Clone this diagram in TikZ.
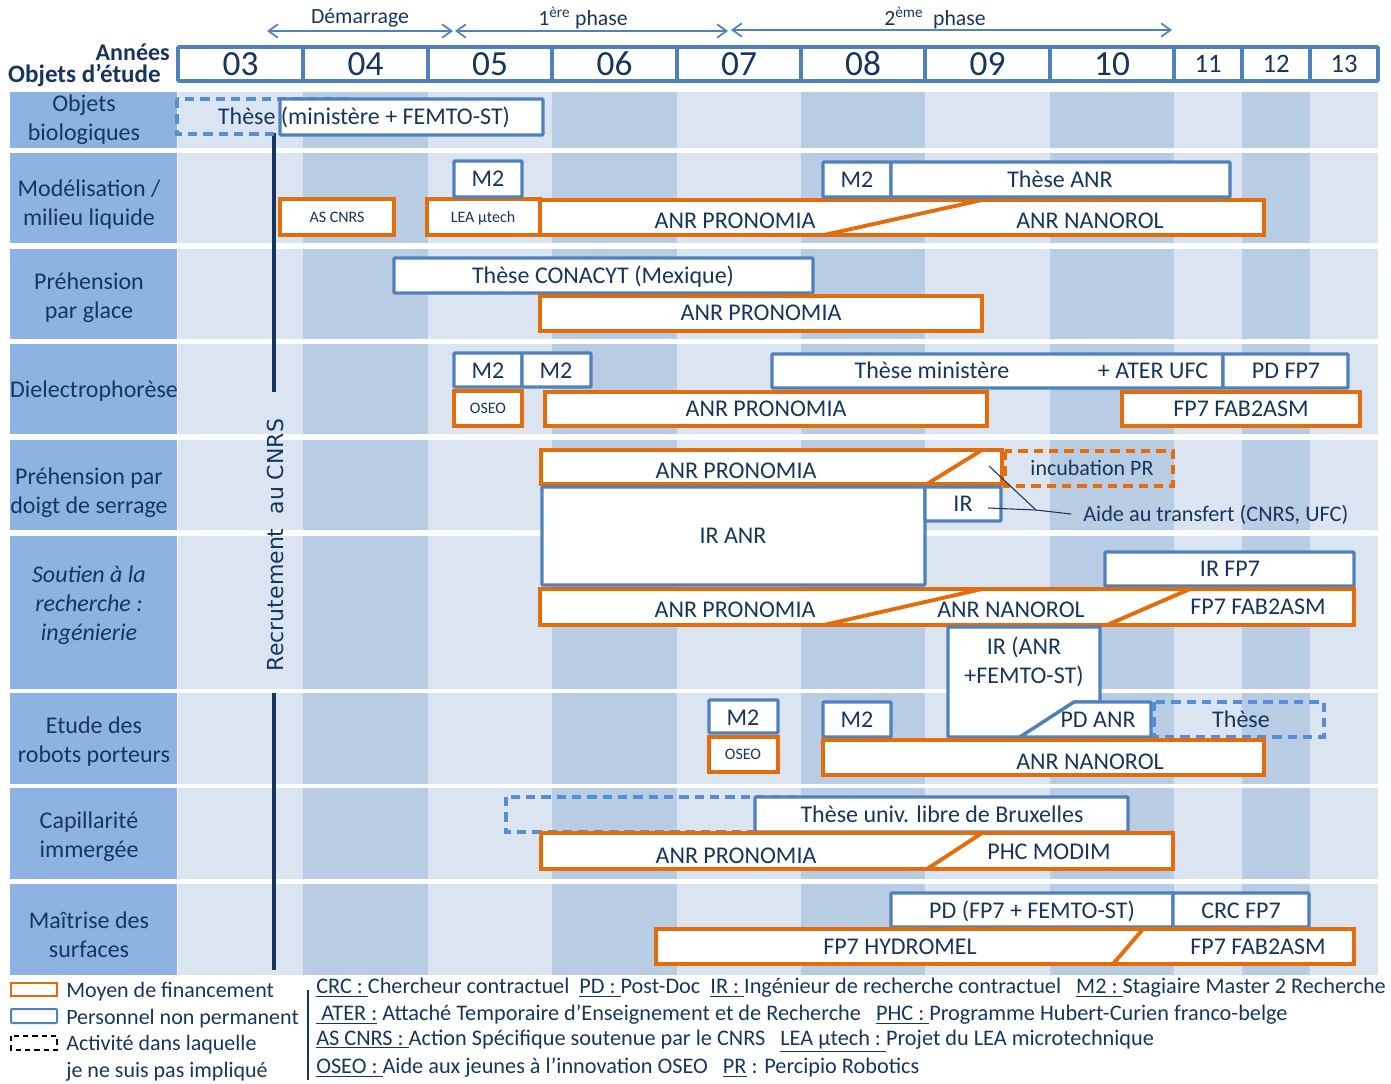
\documentclass[tikz,border=0pt]{standalone}
\usepackage{fontspec}
\setmainfont{Carlito}
\newfontfamily\recfont{DejaVu Sans}
\usetikzlibrary{arrows.meta}
\definecolor{navy}{HTML}{17365D}
\definecolor{bleu}{HTML}{4F81BD}
\definecolor{bleuclair}{HTML}{558ED5}
\definecolor{orangef}{HTML}{E46C0A}
\definecolor{clair}{HTML}{DBE5F1}
\definecolor{fonce}{HTML}{B8CCE4}
\definecolor{etiq}{HTML}{8DB3E2}

\begin{document}
\begin{tikzpicture}[x=0.75pt, y=-0.75pt,
	pers/.style={draw=bleu, fill=white, line width=2.5pt, rounded corners=0.8pt},
	fin/.style={draw=orangef, fill=white, line width=2.9pt},
	libre/.style={draw=bleuclair, line width=2.3pt, dash pattern=on 7pt off 4.5pt},
	txt/.style={text=navy, inner sep=0pt, text height=15.1pt, text depth=3.6pt,
		font=\fontsize{18}{21.75}\selectfont},
	petit/.style={text=navy, inner sep=0pt, text height=10pt, text depth=2.4pt,
		font=\fontsize{12}{14}\selectfont},
	bloc/.style={text=navy, inner sep=0pt, align=center,
		font=\fontsize{18}{21.75}\selectfont},
	rubrique/.style={bloc},
	annee/.style={text=navy, inner sep=0pt, font=\fontsize{26.5}{30}\selectfont},
	anneep/.style={annee, font=\fontsize{20}{24}\selectfont},
	entete/.style={text=navy, inner sep=0pt, font=\bfseries\fontsize{18}{20}\selectfont},
	phase/.style={text=navy, inner sep=0pt, font=\fontsize{16.3}{18}\selectfont},
	fleche/.style={draw=bleu, line width=1.3pt, >={Straight Barb[length=7pt,width=10pt]}, <->},
	barre/.style={draw=navy, line width=3pt},
	renvoi/.style={draw=navy, line width=0.8pt},
	legende/.style={text=navy, inner sep=0pt, anchor=west, font=\fontsize{16.5}{20}\selectfont},
	abrev/.style={legende, font=\fontsize{16.7}{20}\selectfont}]
	\useasboundingbox (0,0) rectangle (1391,1084);

	% fond : rubriques et bandes des annees
	\foreach \t/\b in {92/148,153/243,249/339,344/434,440/530,536/689,693/784,788/879,884/975} {
		\fill[etiq] (10,\t) rectangle (176.5,\b);
		\foreach \l/\r/\c in {178/303/clair,303/428/fonce,428/552/clair,552/677/fonce,
			677/801/clair,801/925/fonce,925/1050/clair,1050/1174/fonce,
			1174/1242/clair,1242/1310/fonce,1310/1378/clair}
			\fill[\c] (\l,\t) rectangle (\r,\b);
	}

	% annees
	\foreach \l/\r/\n in {178/303/03,303/428/04,428/552/05,552/677/06,
		677/801/07,801/925/08,925/1050/09,1050/1174/10} {
		\draw[pers, line width=2.8pt] (\l,47) rectangle (\r,81);
		\node[annee] (an\n) at ({(\l+\r)/2},64) {\n};
	}
	\foreach \l/\r/\n in {1174/1242/11,1242/1310/12,1310/1378/13} {
		\draw[pers, line width=2.8pt] (\l,47) rectangle (\r,81);
		\node[anneep] (an\n) at ({(\l+\r)/2},64) {\n};
	}
	\node[entete, anchor=east] (annees) at (170,52) {Années};
	\node[entete, anchor=east, font=\bfseries\fontsize{18.8}{20}\selectfont] (objets) at (161,76) {Objets d’étude};

	% phases
	\coordinate (ph0) at (267,31);
	\coordinate (ph1) at (453,31);
	\coordinate (ph2) at (455,31);
	\coordinate (ph3) at (728,31);
	\coordinate (ph4) at (731,30);
	\coordinate (ph5) at (1172,30);
	\draw[fleche] (ph0) -- (ph1);
	\draw[fleche] (ph2) -- (ph3);
	\draw[fleche] (ph4) -- (ph5);
	\node[phase] (demarrage) at (360,18) {Démarrage};
	\node[phase] (phase1) at (583,18) {1\textsuperscript{ère} phase};
	\node[phase] (phase2) at (935,18) {2\textsuperscript{ème}\ \ phase};

	% rubriques
	\node[rubrique] (r1) at (84,120) {Objets\\biologiques};
	\node[rubrique] (r2) at (89,205) {Modélisation /\\milieu liquide};
	\node[rubrique] (r3) at (89,298) {Préhension\\par glace};
	\node[rubrique] (r4) at (94,391) {Dielectrophorèse};
	\node[rubrique] (r5) at (89,493) {Préhension par\\doigt de serrage};
	\node[rubrique, font=\itshape\fontsize{18}{21.75}\selectfont] (r6) at (89,605) {Soutien à la\\recherche :\\ingénierie};
	\node[rubrique] (r7) at (94,742) {Etude des\\robots porteurs};
	\node[rubrique] (r8) at (89,837) {Capillarité\\immergée};
	\node[rubrique] (r9) at (89,935) {Maîtrise des\\surfaces};

	% recrutement
	\draw[barre] (274,133) -- (274,392);
	\draw[barre] (274,693) -- (274,970);
	\node[rotate=90, text=navy, inner sep=0pt, font=\recfont\fontsize{16.5}{20}\selectfont] (recrut) at (275,545) {Recrutement\ \ au CNRS};

	% objets biologiques
	\draw[libre] (177,99) rectangle (350,134);
	\draw[pers] (280,99) rectangle (543,135);
	\node[txt] (these1) at (364,117) {Thèse (ministère + FEMTO-ST)};

	% modelisation
	\draw[fin] (280,199) rectangle (394,235);
	\node[petit] (ascnrs) at (337,217) {AS CNRS};
	\draw[fin] (427,199) rectangle (540,235);
	\node[petit] (lea) at (483,217) {LEA µtech};
	\draw[pers] (454,161) rectangle (522,197);
	\node[txt] (m2a) at (488,179) {M2};
	\draw[fin] (540,200) rectangle (1264,235) (824,235) -- (982,200);
	\node[txt] (prono2) at (735,221) {ANR PRONOMIA};
	\node[txt] (nano2) at (1090,221) {ANR NANOROL};
	\draw[pers] (823,162) rectangle (891,197);
	\node[txt] (m2b) at (857,180) {M2};
	\draw[pers] (891,162) rectangle (1230,197);
	\node[txt] (these2) at (1060,180) {Thèse ANR};

	% glace
	\draw[pers] (394,258) rectangle (813,293);
	\node[txt] (conacyt) at (603,276) {Thèse CONACYT (Mexique)};
	\draw[fin] (540,296) rectangle (982,331);
	\node[txt] (prono3) at (761,313) {ANR PRONOMIA};

	% dielectrophorese
	\draw[pers] (454,353) rectangle (522,387);
	\node[txt] (m2c) at (488,371) {M2};
	\draw[pers] (522,353) rectangle (591,387);
	\node[txt] (m2d) at (556,371) {M2};
	\draw[fin] (454,391) rectangle (522,426);
	\node[petit] (oseo4) at (488,408) {OSEO};
	\draw[pers] (772,354) rectangle (1223,388);
	\node[txt] (these4) at (932,371) {Thèse ministère};
	\node[txt] (ater) at (1153,371) {+ ATER UFC};
	\draw[pers] (1223,354) rectangle (1348,388);
	\node[txt] (pdfp7) at (1286,371) {PD FP7};
	\draw[fin] (545,392) rectangle (987,426);
	\node[txt] (prono4) at (766,409) {ANR PRONOMIA};
	\draw[fin] (1122,392) rectangle (1360,426);
	\node[txt] (fab4) at (1241,409) {FP7 FAB2ASM};

	% doigt de serrage
	\draw[fin] (541,450) rectangle (1002,484) (927,484) -- (982,450);
	\node[txt] (prono5) at (736,471) {ANR PRONOMIA};
	\draw[libre, draw=orangef, line width=2.7pt] (1005,451) rectangle (1173,486);
	\node[txt, font=\fontsize{16.5}{20}\selectfont] (incub) at (1092,468) {incubation PR};
	\draw[pers] (542,487) rectangle (925,585);
	\node[txt] (iranr) at (733,536) {IR ANR};
	\draw[pers] (925,487) rectangle (1001,521);
	\node[txt] (ir5) at (963,504) {IR};
	\node[txt, anchor=west, font=\fontsize{16.7}{20}\selectfont] (aide) at (1083,514) {Aide au transfert (CNRS, UFC)};
	\coordinate (p1) at (989,466);
	\coordinate (p2) at (988,508);
	\coordinate (coude) at (1036,510);
	\draw[renvoi] (p1) -- (coude) -- ([xshift=-9pt]aide.west);
	\draw[renvoi] (p2) -- (coude);

	% ingenierie
	\draw[pers] (1105,552) rectangle (1354,586);
	\node[txt] (irfp7) at (1230,569) {IR FP7};
	\draw[fin] (540,589) rectangle (1354,625) (824,625) -- (982,589) (1107,625) -- (1190,589);
	\node[txt] (prono6) at (735,610) {ANR PRONOMIA};
	\node[txt] (nano6) at (1011,610) {ANR NANOROL};
	\node[txt] (fab6) at (1258,607) {FP7 FAB2ASM};
	\draw[pers] (948,627) -- (1100,627) -- (1100,702) -- (1074,702) -- (1020,737) -- (948,737) -- cycle;
	\node[bloc] (irfemto) at (1024,662) {IR (ANR\\+FEMTO-ST)};

	% robots porteurs
	\draw[pers] (1074,702) -- (1151,702) -- (1151,737) -- (1020,737) -- cycle;
	\node[txt] (pdanr) at (1098,720) {PD ANR};
	\draw[libre] (1154,702) rectangle (1324,737);
	\node[txt] (these7) at (1241,720) {Thèse};
	\draw[pers] (709,700) rectangle (778,733);
	\node[txt] (m2e) at (743,718) {M2};
	\draw[fin] (709,737) rectangle (778,772);
	\node[petit] (oseo7) at (743,754) {OSEO};
	\draw[pers] (823,702) rectangle (891,737);
	\node[txt] (m2f) at (857,720) {M2};
	\draw[fin] (823,740) rectangle (1264,775);
	\node[txt] (nano7) at (1090,762) {ANR NANOROL};

	% capillarite
	\draw[libre] (506,797) rectangle (800,832);
	\draw[pers] (755,797) rectangle (1128,832);
	\node[txt] (bruxelles) at (942,815) {Thèse univ. libre de Bruxelles};
	\draw[fin] (541,833) rectangle (1173,869) (927,869) -- (982,833);
	\node[txt] (prono8) at (736,856) {ANR PRONOMIA};
	\node[txt] (phc) at (1049,852) {PHC MODIM};

	% surfaces
	\draw[pers] (891,893) rectangle (1173,927);
	\node[txt] (pdfemto) at (1032,911) {PD (FP7 + FEMTO-ST)};
	\draw[pers] (1173,893) rectangle (1309,927);
	\node[txt] (crc) at (1241,911) {CRC FP7};
	\draw[fin] (656,929) rectangle (1354,964) (1113,964) -- (1143,929);
	\node[txt] (hydro) at (900,947) {FP7 HYDROMEL};
	\node[txt] (fab9) at (1258,947) {FP7 FAB2ASM};

	% legende
	\draw[fin, line width=1.5pt] (11,983) rectangle (57,996);
	\draw[pers, line width=1.5pt] (11,1009) rectangle (57,1023);
	\draw[black, line width=1.3pt, dash pattern=on 4pt off 3pt] (11,1036) rectangle (57,1050);
	\node[legende] (lfin) at (66,992) {Moyen de financement};
	\node[legende] (lpers) at (66,1019) {Personnel non permanent};
	\node[legende] (lact) at (66,1045) {Activité dans laquelle};
	\node[legende] (lact2) at (66,1072) {je ne suis pas impliqué};
	\draw[navy, line width=1.2pt] (308,990) -- (308,1080);
	\node[abrev] (ab1) at (316,988) {\underline{CRC :\ }Chercheur contractuel\ \ \underline{PD :\ }Post-Doc\ \ \underline{IR :\ }Ingénieur de recherche contractuel\ \ \ \underline{M2 :\ }Stagiaire Master 2 Recherche};
	\node[abrev] (ab2) at (316,1015) {\underline{\ ATER :}\ Attaché Temporaire d’Enseignement et de Recherche\ \ \ \underline{PHC :\ }Programme Hubert-Curien franco-belge};
	\node[abrev] (ab3) at (316,1041) {\underline{AS CNRS :\ }Action Spécifique soutenue par le CNRS\ \ \ \underline{LEA µtech :\ }Projet du LEA microtechnique};
	\node[abrev] (ab4) at (316,1068) {\underline{OSEO :\ }Aide aux jeunes à l’innovation OSEO\ \ \ \underline{PR} : Percipio Robotics};
\end{tikzpicture}
\end{document}
